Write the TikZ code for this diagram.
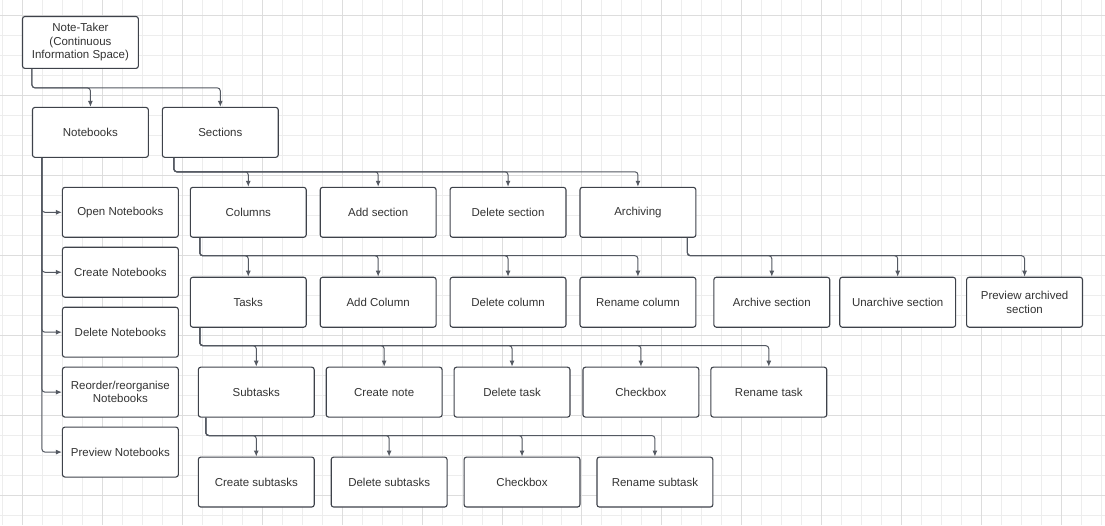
\documentclass[tikz,border=0pt]{standalone}
\usepackage{fontspec}
\setmainfont{Liberation Sans}
\usetikzlibrary{arrows.meta}
\definecolor{boxline}{RGB}{62,66,74}
\definecolor{linkline}{RGB}{84,89,98}
\definecolor{txt}{RGB}{51,51,51}
\definecolor{gridminor}{RGB}{237,237,237}
\definecolor{gridmajor}{RGB}{221,221,221}
\tikzset{
  fbox/.style={draw=boxline,fill=white,line width=1.1pt,rounded corners=2.5pt,minimum width=116pt,minimum height=50pt,inner sep=0pt,align=center,text=txt,font=\fontsize{11.5}{13.5}\selectfont},
  link/.style={draw=linkline,line width=1pt,rounded corners=3pt,-{Latex[length=6pt,width=5pt]}}
}
\newcommand{\fnode}[4]{\node[fbox] (#3) at (#1,#2) {#4};}
\newcommand{\fedge}[4]{\draw[link] ([xshift=#2pt]#1.south west) |- ([yshift=#4pt]#3.north) -- (#3.north);}
\newcommand{\sidedge}[2]{\draw[link] ([xshift=10pt]#1.south west) |- (#2.west);}
\begin{document}
\begin{tikzpicture}[x=1pt,y=-1pt]
	\fill[white] (0,0) rectangle (1105,525);
	\foreach \x in {2,22,...,1102} \draw[gridminor,line width=1pt] (\x,0) -- (\x,525);
	\foreach \y in {15,35,...,515} \draw[gridminor,line width=1pt] (0,\y) -- (1105,\y);
	\foreach \x in {22,102,...,1062} \draw[gridmajor,line width=1pt] (\x,0) -- (\x,525);
	\foreach \y in {15,95,...,495} \draw[gridmajor,line width=1pt] (0,\y) -- (1105,\y);
	\node[fbox,minimum height=52pt] (note) at (80,42) {Note-Taker\\(Continuous\\Information Space)};
	\fnode{90}{132}{nb}{Notebooks} \fnode{220}{132}{sec}{Sections}
	\fnode{120}{212}{open}{Open Notebooks} \fnode{120}{272}{create}{Create Notebooks}
	\fnode{120}{332}{delete}{Delete Notebooks} \fnode{120}{392}{reorder}{Reorder/reorganise\\Notebooks}
	\fnode{120}{452}{preview}{Preview Notebooks}
	\fnode{248}{212}{cols}{Columns} \fnode{378}{212}{addsec}{Add section}
	\fnode{508}{212}{delsec}{Delete section} \fnode{638}{212}{arch}{Archiving}
	\fnode{248}{302}{tasks}{Tasks} \fnode{378}{302}{addcol}{Add Column}
	\fnode{508}{302}{delcol}{Delete column} \fnode{638}{302}{rencol}{Rename column}
	\fnode{772}{302}{archsec}{Archive section} \fnode{898}{302}{unarch}{Unarchive section}
	\fnode{1025}{302}{prevarch}{Preview archived\\section}
	\fnode{256}{392}{subt}{Subtasks} \fnode{384}{392}{cnote}{Create note}
	\fnode{512}{392}{deltask}{Delete task} \fnode{641}{392}{check}{Checkbox}
	\fnode{769}{392}{rentask}{Rename task}
	\fnode{256}{482}{csub}{Create subtasks} \fnode{389}{482}{dsub}{Delete subtasks}
	\fnode{522}{482}{checksub}{Checkbox} \fnode{655}{482}{rensub}{Rename subtask}
	\fedge{note}{10}{nb}{19} \fedge{note}{10}{sec}{19}
	\sidedge{nb}{open} \sidedge{nb}{create} \sidedge{nb}{delete}
	\sidedge{nb}{reorder} \sidedge{nb}{preview}
	\fedge{sec}{12}{cols}{15} \fedge{sec}{12}{addsec}{15}
	\fedge{sec}{12}{delsec}{15} \fedge{sec}{12}{arch}{15}
	\fedge{cols}{10}{tasks}{21} \fedge{cols}{10}{addcol}{21}
	\fedge{cols}{10}{delcol}{21} \fedge{cols}{10}{rencol}{21}
	\fedge{arch}{108}{archsec}{21} \fedge{arch}{108}{unarch}{21}
	\fedge{arch}{108}{prevarch}{21}
	\fedge{tasks}{10}{subt}{21} \fedge{tasks}{10}{cnote}{21}
	\fedge{tasks}{10}{deltask}{21} \fedge{tasks}{10}{check}{21}
	\fedge{tasks}{10}{rentask}{21}
	\fedge{subt}{8}{csub}{21} \fedge{subt}{8}{dsub}{21}
	\fedge{subt}{8}{checksub}{21} \fedge{subt}{8}{rensub}{21}
\end{tikzpicture}
\end{document}
